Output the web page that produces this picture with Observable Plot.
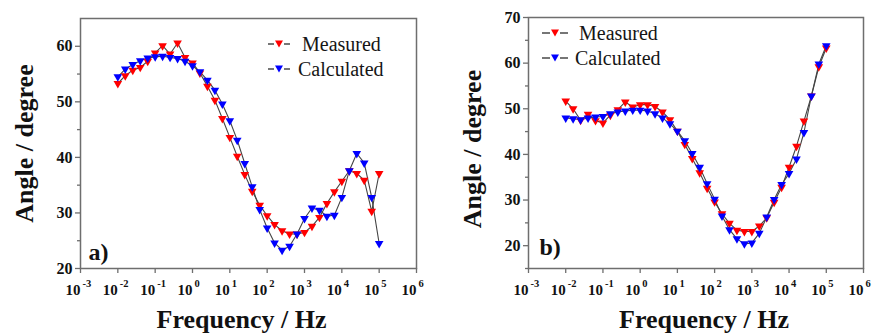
<!DOCTYPE html>
<html><head><meta charset="utf-8">
<script src="https://cdn.jsdelivr.net/npm/d3@7"></script>
<script src="https://cdn.jsdelivr.net/npm/@observablehq/plot@0.6"></script>
<style>
body{margin:0;background:#fff;}
#wrap{display:flex;width:878px;height:333px;overflow:hidden;}
.panel{position:relative;}
.panel svg text{font-family:"Liberation Serif","Times New Roman",serif;}
.lg{position:absolute;display:flex;align-items:center;height:24px;font-family:"Liberation Serif",serif;font-size:20px;color:#151515;white-space:pre;}
.lg svg{display:block;}
</style></head>
<body><div id="wrap"><div class="panel" id="pa"></div><div class="panel" id="pb"></div></div>
<script>
const seriesNames = ["Measured", "Calculated"];
const seriesColors = ["#ff0000", "#0000ff"];
const freq = [0.01, 0.0158, 0.0251, 0.0398, 0.0631, 0.1, 0.158, 0.251, 0.398, 0.631,
  1, 1.58, 2.51, 3.98, 6.31, 10, 15.8, 25.1, 39.8, 63.1,
  100, 158, 251, 398, 631, 1000, 1585, 2512, 3981, 6310,
  10000, 15849, 25119, 39811, 63096, 100000];
const measuredA = [53.3, 54.7, 55.7, 56.2, 57.3, 58.8, 60.1, 58.6, 60.6, 58.0,
  57.0, 55.2, 52.8, 50.3, 47.0, 43.6, 40.2, 36.9, 33.9, 31.4,
  29.5, 27.9, 26.8, 26.2, 26.2, 26.5, 27.6, 29.2, 31.7, 33.8,
  35.7, 37.6, 37.1, 35.9, 30.3, 37.1];
const calculatedA = [54.5, 55.9, 56.7, 57.4, 57.9, 58.1, 58.2, 58.0, 57.8, 57.3,
  56.5, 55.4, 53.9, 52.1, 49.6, 46.6, 43.1, 38.9, 34.7, 30.6,
  27.3, 24.6, 23.3, 24.0, 26.2, 29.0, 30.9, 30.5, 29.4, 29.6,
  32.8, 37.6, 40.7, 39.0, 32.8, 24.5];
const measuredB = [51.7, 50.0, 47.5, 48.8, 47.4, 46.9, 48.6, 49.8, 51.5, 50.4,
  50.9, 50.9, 50.5, 49.3, 47.6, 45.1, 42.2, 39.1, 36.0, 32.6,
  29.6, 27.0, 24.9, 23.4, 23.1, 23.1, 24.3, 26.1, 29.5, 32.8,
  37.2, 41.8, 47.3, 52.8, 59.2, 63.3];
const calculatedB = [48.0, 47.8, 47.6, 48.0, 48.2, 48.3, 48.9, 49.3, 49.5, 49.7,
  49.7, 49.5, 48.9, 48.0, 46.7, 45.1, 43.0, 40.2, 37.2, 33.6,
  30.2, 26.5, 23.5, 21.5, 20.4, 20.6, 22.7, 26.3, 30.1, 33.4,
  35.8, 39.0, 44.8, 52.8, 59.8, 63.8];
const xTicks = [1e-3, 1e-2, 1e-1, 1e0, 1e1, 1e2, 1e3, 1e4, 1e5, 1e6];
const xTickBase = "10";
const xTickExps = ["-3", "-2", "-1", "0", "1", "2", "3", "4", "5", "6"];
const yTicksA = [20, 30, 40, 50, 60];
const yMinorA = [25, 35, 45, 55];
const yTicksB = [20, 30, 40, 50, 60, 70];
const yMinorB = [15, 25, 35, 45, 55, 65];
const xLabel = "Frequency / Hz";
const yLabel = "Angle / degree";

const FONT = "Liberation Serif, Times New Roman, serif";
const S3 = Math.sqrt(3);
const downTriangle = {
  draw(ctx, size) {
    const y = -Math.sqrt(size / (3 * S3));
    ctx.moveTo(0, -2 * y);
    ctx.lineTo(S3 * y, y);
    ctx.lineTo(-S3 * y, y);
    ctx.closePath();
  }
};

function panel(o) {
  const rows = freq.map((f, i) => ({f, m: o.measured[i], c: o.calculated[i]}));
  const axisColor = "#6e6e6e";
  return Plot.plot({
    width: o.width, height: 333,
    marginLeft: o.ml, marginRight: o.mr, marginTop: o.mt, marginBottom: 65,
    style: {fontFamily: FONT, fontWeight: "bold", color: "#111", background: "#fff", overflow: "visible"},
    x: {type: "log", domain: [1e-3, 1e6], axis: null},
    y: {domain: o.yDomain, axis: null},
    marks: [
      Plot.axisY({ticks: o.yMinor, tickSize: 3, tickFormat: () => "", stroke: axisColor, strokeWidth: 1.3, label: null}),
      Plot.axisY({ticks: o.yTicks, tickSize: 5, tickPadding: 3, fontSize: 16, fontFamily: FONT, fontWeight: "bold", stroke: axisColor, strokeWidth: 1.3, fill: "#111", label: null}),
      Plot.axisX({ticks: xTicks, tickSize: 5, tickFormat: () => "", stroke: axisColor, strokeWidth: 1.3, label: null}),
      Plot.text(xTicks, {x: d => d, text: () => xTickBase, frameAnchor: "bottom", textAnchor: "end", lineAnchor: "middle", dy: 22, dx: 0, fontSize: 15, fontFamily: FONT, fontWeight: "bold", fill: "#111"}),
      Plot.text(xTicks, {x: d => d, text: (d, i) => xTickExps[i], frameAnchor: "bottom", textAnchor: "start", lineAnchor: "middle", dy: 15, dx: 2, fontSize: 10.5, fontFamily: FONT, fontWeight: "bold", fill: "#111"}),
      Plot.frame({stroke: axisColor, strokeWidth: 1.5}),
      Plot.text([xLabel], {text: d => d, frameAnchor: "bottom", textAnchor: "middle", lineAnchor: "middle", dy: o.xlDy, dx: o.xlDx, fontSize: 26, fontFamily: FONT, fontWeight: "bold", fill: "#111"}),
      Plot.text([yLabel], {text: d => d, frameAnchor: "left", textAnchor: "middle", lineAnchor: "middle", rotate: -90, dx: -56, dy: o.ylDy, fontSize: 26, fontFamily: FONT, fontWeight: "bold", fill: "#111"}),
      Plot.text([o.tag], {text: d => d, frameAnchor: "bottom-left", textAnchor: "start", lineAnchor: "middle", dx: o.tagDx, dy: o.tagDy, fontSize: 24, fontFamily: FONT, fontWeight: "bold", fill: "#111"}),
      Plot.line(rows, {x: "f", y: "m", stroke: "#444", strokeWidth: 1.1}),
      Plot.line(rows, {x: "f", y: "c", stroke: "#444", strokeWidth: 1.1}),
      Plot.dot(rows, {x: "f", y: "m", symbol: downTriangle, r: 3.2, fill: seriesColors[0], stroke: "none"}),
      Plot.dot(rows, {x: "f", y: "c", symbol: downTriangle, r: 3.2, fill: seriesColors[1], stroke: "none"})
    ]
  });
}

function legend(container, items) {
  items.forEach((it, i) => {
    const div = document.createElement("div");
    div.className = "lg";
    div.style.left = it.x + "px";
    div.style.top = (it.y - 12) + "px";
    const w = it.w;
    const c = w / 2;
    div.innerHTML = `<svg width="${w}" height="12" viewBox="0 0 ${w} 12"><line x1="0" x2="${w}" y1="6" y2="6" stroke="#4a4a4a" stroke-width="1.3" stroke-dasharray="${w/2-5} 10"/><polygon points="${c-4},2.5 ${c+4},2.5 ${c},9.5" fill="${seriesColors[i]}"/></svg><span style="margin-left:${it.gap}px">${seriesNames[i]}</span>`;
    container.appendChild(div);
  });
}

const pa = document.getElementById("pa");
pa.appendChild(panel({width: 440, ml: 80, mr: 24, mt: 18, yDomain: [20, 65], yTicks: yTicksA, yMinor: yMinorA,
  measured: measuredA, calculated: calculatedA, tag: "a)", tagDx: 8, tagDy: -16, xlDx: -7, xlDy: 51, ylDy: 0}));
legend(pa, [{x: 268, y: 44, w: 22, gap: 12}, {x: 268, y: 69, w: 22, gap: 8}]);

const pb = document.getElementById("pb");
pb.appendChild(panel({width: 438, ml: 88, mr: 15, mt: 17, yDomain: [15, 70], yTicks: yTicksB, yMinor: yMinorB,
  measured: measuredB, calculated: calculatedB, tag: "b)", tagDx: 11, tagDy: -21, xlDx: 8, xlDy: 51, ylDy: 6}));
legend(pb, [{x: 102, y: 33, w: 26, gap: 11}, {x: 102, y: 58, w: 26, gap: 7}]);
</script>
</body></html>
